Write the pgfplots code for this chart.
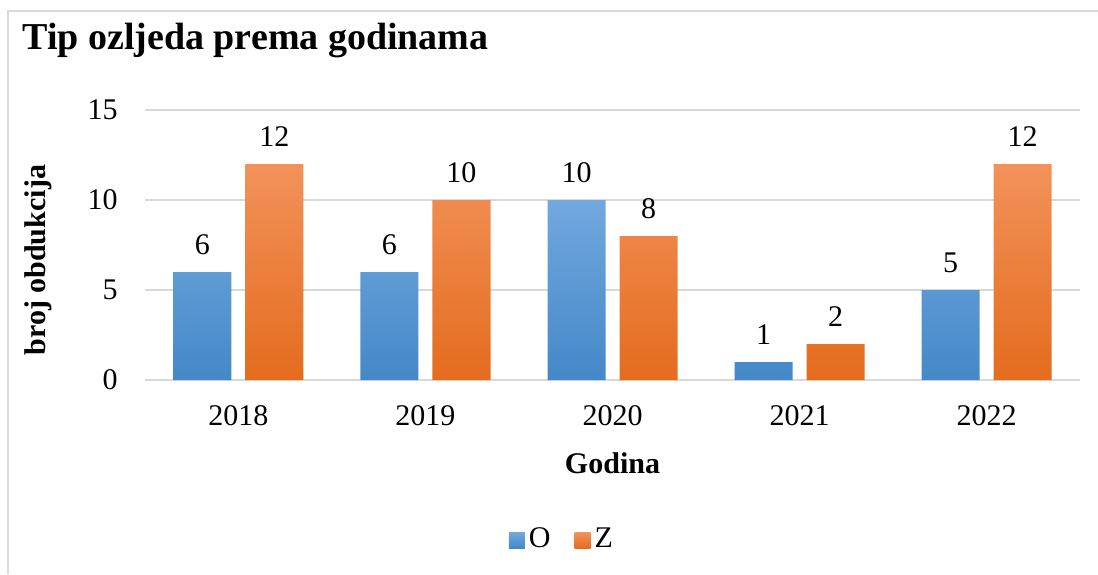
\documentclass[border=0pt]{standalone}
\usepackage{pgfplots}
\pgfplotsset{compat=1.18}
\usepackage{fontspec}
\setmainfont{Liberation Serif}
\definecolor{btop}{RGB}{114,168,222}
\definecolor{bbot}{RGB}{68,136,200}
\definecolor{otop}{RGB}{242,146,90}
\definecolor{obot}{RGB}{228,108,30}
\definecolor{gridc}{RGB}{217,217,217}
\begin{document}
\begin{tikzpicture}[x=0.5pt,y=0.5pt]
\fontsize{15}{18}\selectfont
% bounding box: image 1098x574 px, axis origin at px (145,380)
\path[use as bounding box] (-145,380) rectangle (953,-194);
\draw[gridc, line width=0.6pt] (-137,-193.5) -- (-137,369) -- (953,369);
\begin{axis}[
  at={(0,0)}, anchor=south west,
  scale only axis, width=467.5pt, height=135pt,
  ybar=7pt, bar width=29pt,
  xmin=-0.5, xmax=4.5, ymin=0, ymax=15,
  xtick={0,1,2,3,4}, xticklabels={2018,2019,2020,2021,2022},
  ytick={0,5,10,15},
  axis line style={draw=none},
  major tick length=0pt,
  ymajorgrids, grid style={gridc, line width=0.75pt},
  /pgf/number format/assume math mode=true,
  ticklabel style={font=\fontsize{15}{18}\selectfont},
  yticklabel style={anchor=east, inner sep=0pt, xshift=-13.5pt},
  xticklabel style={anchor=north, inner sep=0pt, yshift=-12.5pt},
  xlabel={Godina}, ylabel={broj obdukcija},
  label style={font=\fontsize{15}{18}\selectfont\bfseries},
  xlabel style={at={(axis description cs:0.5,-0.307)}, anchor=center},
  ylabel style={at={(axis description cs:-0.1144,0.444)}, anchor=center},
  nodes near coords,
  nodes near coords style={font=\fontsize{15}{18}\selectfont, anchor=south, inner sep=0pt, yshift=8.5pt, text=black},
  legend style={at={(axis description cs:0.447,-0.593)}, anchor=center, draw=none, fill=none,
    legend columns=2, font=\fontsize{15}{18}\selectfont,
    /tikz/every even column/.append style={column sep=10pt}},
  legend image code/.code={\path[#1] (0pt,-4pt) rectangle (8pt,4pt);},
]
\addplot[draw=none, top color=btop, bottom color=bbot]
  coordinates {(0,6) (1,6) (2,10) (3,1) (4,5)};
\addlegendentry{O}
\addplot[draw=none, top color=otop, bottom color=obot]
  coordinates {(0,12) (1,10) (2,8) (3,2) (4,12)};
\addlegendentry{Z}
\end{axis}
\node[anchor=base west, inner sep=0pt, font=\fontsize{19}{22}\selectfont\bfseries] at (-123,330) {Tip ozljeda prema godinama};
\end{tikzpicture}
\end{document}
